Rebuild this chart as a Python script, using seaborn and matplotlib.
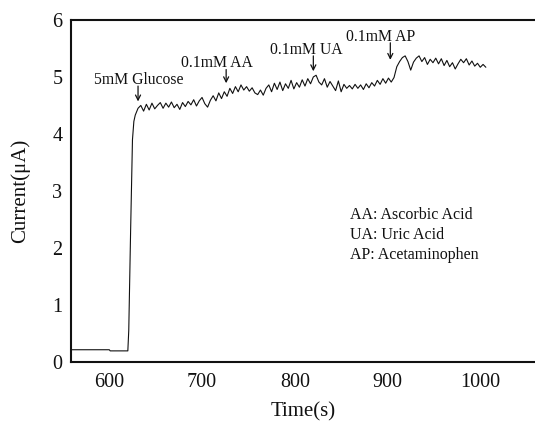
import numpy as np
import pandas as pd
import matplotlib
matplotlib.use("Agg")
import matplotlib.pyplot as plt
import seaborn as sns

# ---- data ----
base_time = [558, 600, 601, 620, 621, 623, 625, 626.5]
base_current = [0.21, 0.21, 0.19, 0.19, 0.55, 2.30, 3.90, 4.22]

noisy_time_start = 628
noisy_time_step = 3
noisy_current = [
    4.33, 4.45, 4.50, 4.40, 4.52, 4.42, 4.54, 4.44, 4.50, 4.55,
    4.45, 4.54, 4.47, 4.56, 4.46, 4.52, 4.43, 4.55, 4.48, 4.57,
    4.51, 4.60, 4.49, 4.58, 4.64, 4.53, 4.47, 4.59, 4.67, 4.58,
    4.72, 4.62, 4.74, 4.66, 4.80, 4.71, 4.83, 4.74, 4.86, 4.77,
    4.83, 4.75, 4.81, 4.72, 4.69, 4.77, 4.68, 4.80, 4.86, 4.74,
    4.89, 4.78, 4.91, 4.76, 4.88, 4.80, 4.94, 4.79, 4.90, 4.82,
    4.95, 4.84, 4.97, 4.88, 5.00, 5.03, 4.91, 4.86, 4.97, 4.82,
    4.92, 4.84, 4.76, 4.93, 4.74, 4.87, 4.80, 4.85, 4.79, 4.87,
    4.80, 4.86, 4.78, 4.88, 4.81, 4.90, 4.84, 4.94, 4.87, 4.97,
    4.89, 4.98, 4.91, 4.99, 5.18, 5.27, 5.34, 5.37, 5.27, 5.12,
    5.26, 5.33, 5.37, 5.27, 5.34, 5.22, 5.31, 5.25, 5.33, 5.23,
    5.32, 5.20, 5.29, 5.18, 5.25, 5.14, 5.23, 5.31, 5.25, 5.32,
    5.21, 5.28, 5.19, 5.24, 5.17, 5.22, 5.17,
]

x_ticks = [600, 700, 800, 900, 1000]
y_ticks = [0, 1, 2, 3, 4, 5, 6]

annot_labels = ["5mM Glucose", "0.1mM AA", "0.1mM UA", "0.1mM AP"]
annot_text_x = [632, 716, 812, 893]
annot_text_y = [4.95, 5.25, 5.47, 5.71]
annot_arrow_x = [631, 726, 820, 903]
annot_arrow_top = [4.84, 5.13, 5.37, 5.60]
annot_arrow_tip = [4.57, 4.89, 5.10, 5.30]

key_lines = ["AA: Ascorbic Acid", "UA: Uric Acid", "AP: Acetaminophen"]
key_y = [2.58, 2.22, 1.87]
key_x = 860

# ---- build table ----
noisy_time = [noisy_time_start + noisy_time_step * i for i in range(len(noisy_current))]
df = pd.DataFrame({
    "Time": list(base_time) + noisy_time,
    "Current": list(base_current) + noisy_current,
})

sns.set_style("white")
plt.rcParams["font.family"] = ["Liberation Serif", "DejaVu Serif"]
plt.rcParams["mathtext.fontset"] = "stix"

fig = plt.figure(figsize=(5.35, 4.24), dpi=100)
ax = fig.add_axes([70.7 / 535, 1 - 361.7 / 424, 1 - 70.7 / 535, (361.7 - 20) / 424])

sns.lineplot(data=df, x="Time", y="Current", ax=ax, color="#111111",
             linewidth=0.8, sort=False, estimator=None)

ax.set_xlim(558.4, 1059)
ax.set_ylim(0, 6)
ax.set_xticks(x_ticks)
ax.set_yticks(y_ticks)
ax.tick_params(axis="both", length=0, labelsize=14.5, colors="#111111")
ax.tick_params(axis="x", pad=8)
ax.tick_params(axis="y", pad=6)

ax.set_xlabel("Time(s)", fontsize=15, color="#111111")
ax.set_ylabel("Current(μA)", fontsize=15, color="#111111")
ax.xaxis.set_label_coords(0.5, -0.12)
ax.yaxis.set_label_coords(-0.088, 0.5)

for side in ["left", "bottom", "top"]:
    ax.spines[side].set_visible(True)
    ax.spines[side].set_color("#111111")
    ax.spines[side].set_linewidth(1.5)
ax.spines["right"].set_visible(False)

for lab, tx, ty, ax_x, a_top, a_tip in zip(annot_labels, annot_text_x, annot_text_y,
                                           annot_arrow_x, annot_arrow_top, annot_arrow_tip):
    ax.text(tx, ty, lab, ha="center", va="center", fontsize=11.3, color="#111111")
    ax.annotate("", xy=(ax_x, a_tip), xytext=(ax_x, a_top),
                arrowprops=dict(arrowstyle="->", color="#111111", lw=0.9,
                                shrinkA=0, shrinkB=0, mutation_scale=9))

for line, yy in zip(key_lines, key_y):
    ax.text(key_x, yy, line, ha="left", va="center", fontsize=11.5, color="#111111")

fig.savefig("out.png", dpi=100)
